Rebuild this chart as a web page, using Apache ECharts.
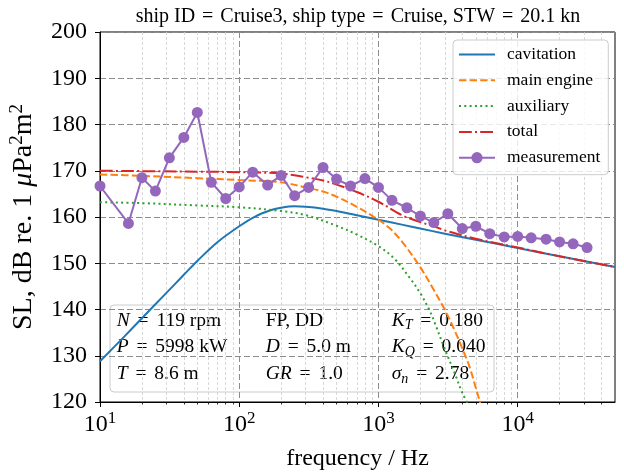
<!DOCTYPE html>
<html><head><meta charset="utf-8">
<script src="https://cdn.jsdelivr.net/npm/echarts@6/dist/echarts.min.js"></script>
<style>html,body{margin:0;padding:0;background:#fff}#c{width:624px;height:472px}</style>
</head><body><div id="c"></div>
<script>
const FONT = '"Liberation Serif", "Times New Roman", serif';

// measurement (1/3-octave bands)
const measFreq = [10,16,20,25,31.5,40,50,63,80,100,125,160,200,250,315,400,500,630,800,1000,1250,1600,2000,2500,3150,4000,5000,6300,8000,10000,12500,16000,20000,25000,31500];
const measSL = [166.7,158.6,168.5,165.6,172.8,177.2,182.6,167.5,164.0,166.5,169.7,166.9,169.0,164.6,166.4,170.7,168.2,166.7,168.3,166.4,163.6,162.0,160.2,158.8,160.7,157.5,158.0,156.4,155.7,155.8,155.5,155.2,154.6,154.2,153.4];

// cavitation
const cavFreq = [10,15,20,30,40,50,70,100,130,170,200,250,300,400,500,700,1000,1500,2000,3000,5000,10000,20000,50000];
const cavSL = [128.8,134.2,138.1,143.6,147.5,150.5,154.6,158.0,160.1,161.5,162.0,162.3,162.2,161.8,161.3,160.4,159.4,158.3,157.5,156.4,155.1,153.3,151.5,149.2];

// main engine
const engFreq = [10,20,50,100,200,300,400,500,700,1000,1200,1500,2000,2500,3000,3500,4000,4500,5000,5500,6000];
const engSL = [169.2,168.9,168.4,168.0,167.5,166.4,165.5,164.4,162.2,159.4,157.6,154.4,149.1,144.2,139.9,135.7,131.6,127.7,123.1,118.7,114.0];

// auxiliary
const auxFreq = [10,20,50,100,200,300,500,700,1000,1300,1700,2000,2330,2500,3000,3500,4000,4500];
const auxSL = [163.2,163.0,162.5,162.1,161.3,160.4,158.1,156.2,153.7,151.0,146.6,143.5,139.8,137.6,131.4,126.5,122.0,119.0];

// total
const totFreq = [10,50,100,200,300,400,500,700,1000,1500,2000,2500,3000,5000,10000,20000,50000];
const totSL = [170.0,169.8,169.7,169.4,168.6,167.9,167.0,165.4,163.3,160.3,158.9,158.0,157.1,155.3,153.4,151.5,149.2];

// axis ticks
const majorTicks = [10,100,1000,10000];
const minorTicks = [];
[10,100,1000,10000].forEach(d => { for (let k = 2; k <= 9; k++) { if (d*k < 50000) minorTicks.push(d*k); } });

const titleText = 'ship ID = Cruise3, ship type = Cruise, STW = 20.1 kn';
const boxRows = [
  ['{i|N}{n| }{e|=}{n| 119 rpm}', '{n|FP, DD}', '{i|K}{sub|T}{n| }{e|=}{n| 0.180}'],
  ['{i|P}{n| }{e|=}{n| 5998 kW}', '{i|D}{n| }{e|=}{n| 5.0 m}', '{i|K}{sub|Q}{n| }{e|=}{n| 0.040}'],
  ['{i|T}{n| }{e|=}{n| 8.6 m}', '{i|GR}{n| }{e|=}{n| 1.0}', '{i|σ}{sub|n}{n| }{e|=}{n| 2.78}']
];
const legendNames = ['cavitation', 'main engine', 'auxiliary', 'total', 'measurement'];

const pairs = (xs, ys) => xs.map((x, i) => [x, ys[i]]);

const boxRich = {
  n: {fontSize: 19.5, fontFamily: FONT, color: '#000', lineHeight: 24},
  i: {fontSize: 19.5, fontFamily: FONT, fontStyle: 'italic', color: '#000', lineHeight: 24},
  e: {fontSize: 19.5, fontFamily: FONT, color: '#000', lineHeight: 24, padding: [0, 3]},
  sub: {fontSize: 14, fontFamily: FONT, fontStyle: 'italic', color: '#000', lineHeight: 14, verticalAlign: 'bottom'}
};
const colX = [6.7, 155.7, 281.7];
const rowY = [15.7, 42.3, 69];
const boxChildren = [{type: 'rect', shape: {x: 0, y: 0, width: 384, height: 87, r: 4},
  style: {fill: 'rgba(255,255,255,0.8)', stroke: '#cccccc', lineWidth: 1}}];
boxRows.forEach((row, r) => row.forEach((t, c) => {
  boxChildren.push({type: 'text', x: colX[c], y: rowY[r],
    style: {text: t, rich: boxRich, align: 'left', verticalAlign: 'middle', fontFamily: FONT, fontSize: 19.5, fill: '#000'}});
}));

const lineBase = {type: 'line', symbol: 'none', smooth: 0.35, animation: false};

const chart = echarts.init(document.getElementById('c'), null, {renderer: 'canvas'});
chart.setOption({
  animation: false,
  backgroundColor: '#fff',
  grid: {left: 100, right: 9, top: 32, bottom: 70, show: true, borderColor: '#000', borderWidth: 1,
    containLabel: false, outerBoundsMode: 'none'},
  xAxis: [{
    type: 'log', logBase: 10, min: 10, max: 50000,
    name: 'frequency / Hz', nameLocation: 'middle', nameGap: 45,
    nameTextStyle: {fontFamily: FONT, fontSize: 24, color: '#000'},
    axisLine: {show: true, lineStyle: {color: '#000', width: 1}},
    axisTick: {show: true, inside: false, length: 5, customValues: majorTicks, lineStyle: {color: '#000', width: 1}},
    axisLabel: {show: true, customValues: majorTicks, margin: 8,
      formatter: v => '{b|10}{s|' + Math.round(Math.log10(v)) + '}',
      rich: {
        b: {fontFamily: FONT, fontSize: 24, color: '#000', lineHeight: 30},
        s: {fontFamily: FONT, fontSize: 17, color: '#000', lineHeight: 17, verticalAlign: 'top'}
      }},
    splitLine: {show: true, lineStyle: {color: '#8c8c8c', type: [6, 3], width: 1}}
  }, {
    type: 'log', logBase: 10, min: 10, max: 50000, position: 'bottom',
    axisLine: {show: false},
    axisTick: {show: true, inside: false, length: 2.5, customValues: minorTicks, lineStyle: {color: '#000', width: 0.8}},
    axisLabel: {show: false},
    splitLine: {show: true, lineStyle: {color: '#cfcfcf', type: [3, 2], width: 0.8}}
  }],
  yAxis: {
    type: 'value', min: 120, max: 200, interval: 10,
    name: '{n|SL, dB re. 1 }{i|μ}{n|Pa}{s|2}{n|m}{s|2}', nameLocation: 'middle', nameGap: 60,
    nameTextStyle: {
      rich: {
        n: {fontFamily: FONT, fontSize: 28, color: '#000', lineHeight: 32},
        i: {fontFamily: FONT, fontSize: 28, fontStyle: 'italic', color: '#000', lineHeight: 32},
        s: {fontFamily: FONT, fontSize: 19, color: '#000', lineHeight: 19, verticalAlign: 'top'}
      }
    },
    axisLine: {show: true, lineStyle: {color: '#000', width: 1}},
    axisTick: {show: true, inside: false, length: 5, lineStyle: {color: '#000', width: 1}},
    axisLabel: {fontFamily: FONT, fontSize: 24, color: '#000', margin: 13},
    splitLine: {show: true, lineStyle: {color: '#8c8c8c', type: [6, 3], width: 1}}
  },
  legend: {
    orient: 'vertical', left: 453, top: 40, z: 50,
    padding: [5.5, 8, 8, 5], itemWidth: 36, itemHeight: 14, itemGap: 7.8,
    backgroundColor: 'rgba(255,255,255,0.8)', borderColor: '#cccccc', borderWidth: 1, borderRadius: 4,
    textStyle: {fontFamily: FONT, fontSize: 17.5, color: '#000', padding: [0, 0, 0, 7]},
    data: legendNames.map((n, i) => i < 4 ? {name: n, itemStyle: {opacity: 0}} : {name: n})
  },
  graphic: [
    {type: 'text', x: 358, y: 17, z: 100,
      style: {text: titleText.replace(/ = /g, ' {e|=} '), align: 'center', verticalAlign: 'middle',
        fontFamily: FONT, fontSize: 20, fill: '#000',
        rich: {e: {fontFamily: FONT, fontSize: 20, color: '#000', padding: [0, 2]}}}},
    {type: 'group', x: 110, y: 305, z: 100, children: boxChildren}
  ],
  series: [
    Object.assign({}, lineBase, {name: 'cavitation', data: pairs(cavFreq, cavSL),
      lineStyle: {color: '#1f77b4', width: 2}, itemStyle: {color: '#1f77b4'}}),
    Object.assign({}, lineBase, {name: 'main engine', data: pairs(engFreq, engSL),
      lineStyle: {color: '#ff7f0e', width: 2, type: [7.4, 3.2]}, itemStyle: {color: '#ff7f0e'}}),
    Object.assign({}, lineBase, {name: 'auxiliary', data: pairs(auxFreq, auxSL),
      lineStyle: {color: '#2ca02c', width: 2, type: [2, 3.3]}, itemStyle: {color: '#2ca02c'}}),
    Object.assign({}, lineBase, {name: 'total', data: pairs(totFreq, totSL),
      lineStyle: {color: '#d62728', width: 2, type: [12.8, 3.2, 2, 3.2]}, itemStyle: {color: '#d62728'}}),
    {type: 'line', name: 'measurement', data: pairs(measFreq, measSL), smooth: false,
      symbol: 'circle', symbolSize: 11, showAllSymbol: true,
      lineStyle: {color: '#9467bd', width: 2}, itemStyle: {color: '#9467bd'}}
  ]
});
</script>
</body></html>
